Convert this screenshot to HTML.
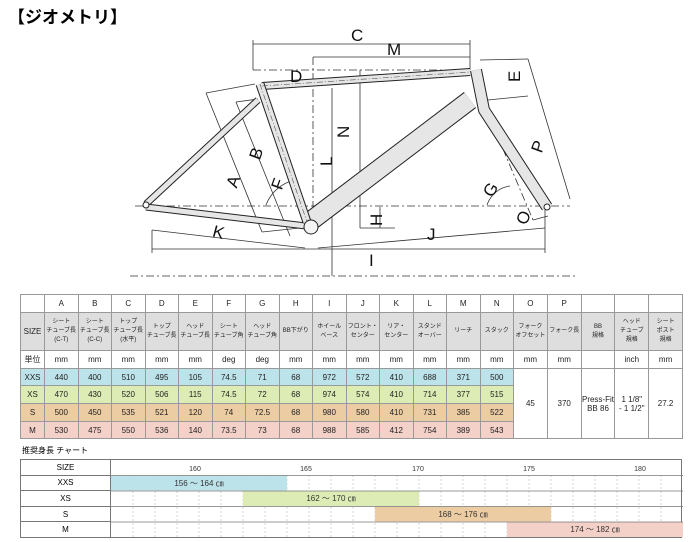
<!DOCTYPE html>
<html><head><meta charset="utf-8"><style>
body{margin:0;width:700px;height:542px;background:#fff;position:relative;overflow:hidden;font-family:"Liberation Sans","Noto Sans CJK JP",sans-serif;}
.t{position:absolute;left:8px;top:3px;font-size:17px;font-weight:bold;}
table{border-collapse:collapse;table-layout:fixed;position:absolute;}
#g{left:20px;top:294px;width:662px;}
#g td{border:1px solid #999;text-align:center;font-size:8px;color:#222;padding:0;overflow:hidden;}
#g tr.h td{font-size:6px;background:#dedede;line-height:9px;}
.x1 td{background:#bde3ea}.x2 td{background:#dcecb4}.x3 td{background:#eccca2}.x4 td{background:#f3d0c8}
#g td.w{background:#fff;}
#h{left:20px;top:459px;width:662px;}
#h td{border:1px solid #777;height:14.5px;padding:0;font-size:8px;text-align:center;}
.lb{position:absolute;left:22px;top:445px;font-size:8px;}
</style></head><body>
<div class="t">【ジオメトリ】</div>
<svg width="700" height="290" style="position:absolute;left:0;top:0" font-family="Liberation Sans" font-size="17" fill="#111">
<g fill="none" stroke="#333" stroke-width="0.8">
<line x1="130" y1="276" x2="575" y2="276" stroke-dasharray="8,3,2,3"/>
<line x1="135" y1="206" x2="570" y2="206" stroke-dasharray="8,3,2,3"/>
<line x1="253" y1="70" x2="470" y2="70" stroke-dasharray="8,3,2,3"/>
<line x1="313" y1="57" x2="313" y2="225" stroke-dasharray="8,3,2,3"/>
<line x1="253" y1="40" x2="253" y2="70"/>
<line x1="470" y1="40" x2="470" y2="70"/>
<line x1="253" y1="44" x2="470" y2="44"/>
<line x1="313" y1="57" x2="470" y2="57"/>
<line x1="332" y1="88" x2="332" y2="276"/>
<line x1="360" y1="70" x2="360" y2="228"/>
<line x1="380" y1="207" x2="380" y2="228"/>
<line x1="360" y1="228" x2="395" y2="228"/>
<line x1="152" y1="230" x2="152" y2="253"/>
<line x1="152" y1="249" x2="545" y2="249"/>
<line x1="545" y1="210" x2="545" y2="253"/>
<line x1="152" y1="230" x2="305" y2="248"/>
<line x1="318" y1="248" x2="545" y2="228"/>
<line x1="206" y1="93" x2="262" y2="232"/>
<line x1="236" y1="102" x2="290" y2="236"/>
<line x1="262" y1="232" x2="300" y2="228"/>
<line x1="206" y1="93" x2="255" y2="84"/>
<line x1="236" y1="102" x2="258" y2="99"/>
<line x1="480" y1="60" x2="528" y2="59"/>
<line x1="528" y1="59" x2="570" y2="199"/>
<line x1="488" y1="100" x2="528" y2="96"/>
<line x1="533" y1="220" x2="548" y2="216"/>
<line x1="478" y1="90" x2="533" y2="220" stroke-dasharray="8,3,2,3"/>
<path d="M266,205 A40,40 0 0 1 295,180"/>
<path d="M487,205 A28,28 0 0 1 510,186"/>
</g>
<path d="M146,204 L258,100" stroke="#222" stroke-width="7" fill="none"/>
<path d="M146,204 L258,100" stroke="#e6e6e6" stroke-width="5" fill="none"/>
<path d="M146,207 L306,226" stroke="#222" stroke-width="7" fill="none"/>
<path d="M146,207 L306,226" stroke="#e6e6e6" stroke-width="5" fill="none"/>
<path d="M476,70 L484,110 L547,207" stroke="#222" stroke-width="12" fill="none" stroke-linejoin="round"/>
<path d="M476,70 L484,110 L547,207" stroke="#e6e6e6" stroke-width="10" fill="none" stroke-linejoin="round"/>
<path d="M312,220 L470,100" stroke="#222" stroke-width="20" fill="none"/>
<path d="M312,220 L470,100" stroke="#e6e6e6" stroke-width="18" fill="none"/>
<path d="M262,86 L470,72" stroke="#222" stroke-width="8" fill="none"/>
<path d="M262,86 L470,72" stroke="#e6e6e6" stroke-width="6" fill="none"/>
<path d="M260,84 L307,222" stroke="#222" stroke-width="9" fill="none"/>
<path d="M260,84 L307,222" stroke="#e6e6e6" stroke-width="7" fill="none"/>
<circle cx="311" cy="227" r="7" fill="#f4f4f4" stroke="#222"/>
<circle cx="146" cy="205" r="3" fill="#fff" stroke="#222"/>
<circle cx="547" cy="207" r="3" fill="#fff" stroke="#222"/>
<line x1="262" y1="86" x2="470" y2="72" stroke="#555" stroke-width="0.6" stroke-dasharray="6,2,1,2"/>
<line x1="260" y1="84" x2="307" y2="222" stroke="#555" stroke-width="0.6" stroke-dasharray="6,2,1,2"/>
<text x="351" y="41">C</text><text x="387" y="55">M</text><text x="290" y="82">D</text>
<text x="514" y="68" transform="rotate(-90 514 68)" dx="-14" dy="6">E</text>
<text x="343" y="132" transform="rotate(-90 343 132)" dx="-6" dy="6">N</text>
<text x="326" y="160" transform="rotate(-90 326 160)" dx="-6" dy="6">L</text>
<text x="233" y="181" transform="rotate(-70 233 181)" dx="-6" dy="6">A</text>
<text x="256" y="153" transform="rotate(-70 256 153)" dx="-6" dy="6">B</text>
<text x="278" y="183" transform="rotate(-70 278 183)" dx="-6" dy="6">F</text>
<text x="490" y="190" transform="rotate(-60 490 190)" dx="-6" dy="6">G</text>
<text x="376" y="220" transform="rotate(-90 376 220)" dx="-6" dy="6">H</text>
<text x="523" y="218" transform="rotate(-70 523 218)" dx="-6" dy="6">O</text>
<text x="538" y="146" transform="rotate(-70 538 146)" dx="-6" dy="6">P</text>
<text x="213" y="238" transform="rotate(15 219 232)">K</text>
<text x="427" y="240">J</text><text x="369" y="266">I</text>
</svg>
<table id="g">
<colgroup><col style="width:24px"><col span="14" style="width:33.5px"><col span="5" style="width:33.8px"></colgroup>
<tr style="height:18px"><td></td><td>A</td><td>B</td><td>C</td><td>D</td><td>E</td><td>F</td><td>G</td><td>H</td><td>I</td><td>J</td><td>K</td><td>L</td><td>M</td><td>N</td><td>O</td><td>P</td><td></td><td></td><td></td></tr>
<tr class="h" style="height:38px"><td style="font-size:8px">SIZE</td><td>シート<br>チューブ長<br>(C-T)</td><td>シート<br>チューブ長<br>(C-C)</td><td>トップ<br>チューブ長<br>(水平)</td><td>トップ<br>チューブ長</td><td>ヘッド<br>チューブ長</td><td>シート<br>チューブ角</td><td>ヘッド<br>チューブ角</td><td>BB下がり</td><td>ホイール<br>ベース</td><td>フロント・<br>センター</td><td>リア・<br>センター</td><td>スタンド<br>オーバー</td><td>リーチ</td><td>スタック</td><td>フォーク<br>オフセット</td><td>フォーク長</td><td>BB<br>規格</td><td>ヘッド<br>チューブ<br>規格</td><td>シート<br>ポスト<br>規格</td></tr>
<tr style="height:18px"><td>単位</td><td>mm</td><td>mm</td><td>mm</td><td>mm</td><td>mm</td><td>deg</td><td>deg</td><td>mm</td><td>mm</td><td>mm</td><td>mm</td><td>mm</td><td>mm</td><td>mm</td><td>mm</td><td>mm</td><td></td><td>inch</td><td>mm</td></tr>
<tr class="x1" style="height:17px"><td>XXS</td><td>440</td><td>400</td><td>510</td><td>495</td><td>105</td><td>74.5</td><td>71</td><td>68</td><td>972</td><td>572</td><td>410</td><td>688</td><td>371</td><td>500</td><td class="w" rowspan="4">45</td><td class="w" rowspan="4">370</td><td class="w" rowspan="4">Press-Fit<br>BB 86</td><td class="w" rowspan="4">1 1/8"<br>- 1 1/2"</td><td class="w" rowspan="4">27.2</td></tr>
<tr class="x2" style="height:18px"><td>XS</td><td>470</td><td>430</td><td>520</td><td>506</td><td>115</td><td>74.5</td><td>72</td><td>68</td><td>974</td><td>574</td><td>410</td><td>714</td><td>377</td><td>515</td></tr>
<tr class="x3" style="height:18px"><td>S</td><td>500</td><td>450</td><td>535</td><td>521</td><td>120</td><td>74</td><td>72.5</td><td>68</td><td>980</td><td>580</td><td>410</td><td>731</td><td>385</td><td>522</td></tr>
<tr class="x4" style="height:17px"><td>M</td><td>530</td><td>475</td><td>550</td><td>536</td><td>140</td><td>73.5</td><td>73</td><td>68</td><td>988</td><td>585</td><td>412</td><td>754</td><td>389</td><td>543</td></tr>
</table>
<div class="lb">推奨身長 チャート</div>
<table id="h">
<colgroup><col style="width:90px"><col></colgroup>
<tr><td>SIZE</td><td rowspan="5" style="position:relative;padding:0;vertical-align:top">
<svg width="572" height="77" style="display:block" font-family="Liberation Sans" font-size="7" fill="#333">
<g stroke="#bbb" stroke-width="0.6" stroke-dasharray="2,2">
<line x1="22" y1="15" x2="22" y2="77"/><line x1="44" y1="15" x2="44" y2="77"/><line x1="66" y1="15" x2="66" y2="77"/><line x1="88" y1="15" x2="88" y2="77"/><line x1="110" y1="15" x2="110" y2="77"/><line x1="132" y1="15" x2="132" y2="77"/><line x1="154" y1="15" x2="154" y2="77"/><line x1="176" y1="15" x2="176" y2="77"/><line x1="198" y1="15" x2="198" y2="77"/><line x1="220" y1="15" x2="220" y2="77"/><line x1="242" y1="15" x2="242" y2="77"/><line x1="264" y1="15" x2="264" y2="77"/><line x1="286" y1="15" x2="286" y2="77"/><line x1="308" y1="15" x2="308" y2="77"/><line x1="330" y1="15" x2="330" y2="77"/><line x1="352" y1="15" x2="352" y2="77"/><line x1="374" y1="15" x2="374" y2="77"/><line x1="396" y1="15" x2="396" y2="77"/><line x1="418" y1="15" x2="418" y2="77"/><line x1="440" y1="15" x2="440" y2="77"/><line x1="462" y1="15" x2="462" y2="77"/><line x1="484" y1="15" x2="484" y2="77"/><line x1="506" y1="15" x2="506" y2="77"/><line x1="528" y1="15" x2="528" y2="77"/><line x1="550" y1="15" x2="550" y2="77"/>
</g>
<rect x="0" y="15.5" width="176" height="15" fill="#bde3ea"/>
<rect x="132" y="31" width="176" height="15" fill="#dcecb4"/>
<rect x="264" y="46.5" width="176" height="15" fill="#eccca2"/>
<rect x="396" y="62" width="176" height="15" fill="#f3d0c8"/>
<g stroke="#777" stroke-width="0.8"><line x1="0" y1="15.5" x2="572" y2="15.5"/><line x1="0" y1="31" x2="572" y2="31"/><line x1="0" y1="46.5" x2="572" y2="46.5"/><line x1="0" y1="62" x2="572" y2="62"/></g>
<text x="84" y="11" text-anchor="middle">160</text><text x="195" y="11" text-anchor="middle">165</text><text x="307" y="11" text-anchor="middle">170</text><text x="418" y="11" text-anchor="middle">175</text><text x="529" y="11" text-anchor="middle">180</text>
<g font-size="8"><text x="88" y="26" text-anchor="middle">156 ～ 164 ㎝</text><text x="220" y="41" text-anchor="middle">162 ～ 170 ㎝</text><text x="352" y="57" text-anchor="middle">168 ～ 176 ㎝</text><text x="484" y="72" text-anchor="middle">174 ～ 182 ㎝</text></g>
</svg></td></tr>
<tr><td>XXS</td></tr><tr><td>XS</td></tr><tr><td>S</td></tr><tr><td>M</td></tr>
</table>
</body></html>
